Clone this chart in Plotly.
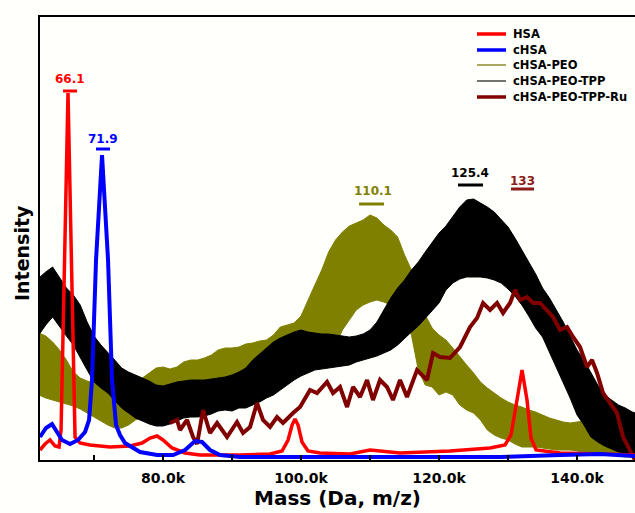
import plotly.graph_objects as go

# ---------------- data ----------------
series_names = ["HSA", "cHSA", "cHSA-PEO", "cHSA-PEO-TPP", "cHSA-PEO-TPP-Ru"]

# common mass grid (kDa) for the two noisy spectra, given as envelope bands
mass_grid = list(range(62, 150))

peo_hi = [127, 124, 118, 110, 100, 88, 82, 79, 77, 74, 70, 67, 68, 72, 77, 82, 87, 92, 93, 91,
          93, 98, 100, 100, 102, 105, 110, 112, 112, 113, 116, 117, 119, 120, 125, 133, 135, 137, 144, 160,
          175, 190, 208, 220, 228, 234, 237, 240, 245, 242, 235, 230, 223, 205, 190, 170, 145, 132, 125, 120,
          112, 103, 95, 87, 78, 72, 67, 62, 58, 55, 53, 50, 48, 45, 42, 40, 38, 37, 38, 39,
          40, 38, 37, 36, 34, 32, 28, 27]
peo_lo = [65, 62, 60, 58, 56, 54, 51, 47, 43, 39, 35, 32, 32, 35, 40, 43, 46, 50, 52, 53,
          55, 58, 60, 64, 67, 68, 70, 71, 72, 70, 68, 62, 65, 69, 70, 72, 80, 86, 88, 91,
          94, 100, 106, 115, 130, 140, 150, 155, 158, 160, 158, 155, 158, 142, 125, 90, 75, 73, 65, 68,
          65, 55, 50, 47, 40, 30, 25, 22, 20, 16, 13, 13, 13, 12, 11, 10, 10, 10, 9, 8,
          7, 7, 7, 6, 4, 3, 3, 3]

tpp_hi = [182, 188, 193, 182, 172, 165, 155, 138, 124, 115, 108, 100, 92, 88, 85, 82, 79, 75, 74, 76,
          78, 79, 80, 80, 80, 81, 82, 83, 85, 88, 92, 100, 106, 112, 118, 122, 125, 128, 130, 128,
          127, 126, 126, 125, 124, 123, 124, 126, 130, 138, 150, 162, 172, 180, 190, 198, 208, 218, 227, 234,
          244, 253, 260, 261, 257, 253, 248, 241, 233, 222, 210, 198, 186, 172, 162, 150, 138, 124, 110, 100,
          87, 75, 65, 60, 55, 52, 48, 46]
tpp_lo = [125, 135, 143, 133, 124, 115, 102, 90, 78, 72, 67, 60, 52, 47, 42, 39, 36, 34, 34, 36,
          39, 42, 43, 43, 44, 46, 49, 50, 49, 52, 52, 55, 58, 62, 65, 70, 75, 80, 84, 87,
          90, 91, 92, 93, 94, 95, 98, 100, 102, 104, 107, 110, 115, 122, 128, 134, 142, 150, 157, 170,
          177, 181, 183, 183, 183, 182, 180, 177, 171, 164, 155, 144, 132, 123, 108, 92, 77, 62, 45, 35,
          23, 18, 14, 11, 8, 6, 4, 3]

hsa_mass = [62.17, 62.90, 63.62, 64.35, 64.93, 65.22, 66.23, 67.25, 67.97, 69.42, 72.32, 75.22, 76.96,
            78.12, 79.13, 80.00, 81.30, 83.19, 85.36, 91.16, 95.51, 97.25, 98.12, 98.70, 99.13, 99.57,
            100.14, 101.01, 102.75, 107.10, 110.0, 114.35, 121.59, 127.39, 129.57, 130.43, 131.30,
            132.03, 132.75, 133.33, 134.06, 137.54, 143.33, 148.41]
hsa_int = [10, 16, 20, 14, 13, 30, 367, 23, 17, 15, 13, 14, 17,
           22, 24, 20, 12, 7, 5, 5, 6, 9, 20, 35, 41, 35,
           18, 9, 7, 6, 10, 7, 9, 12, 15, 25, 60,
           90, 60, 22, 10, 7, 6, 5]

chsa_mass = [62.17, 63.04, 63.91, 64.64, 65.36, 66.52, 67.68, 68.70, 69.28, 69.71, 70.29, 71.16, 72.03,
             72.61, 73.19, 73.77, 74.49, 76.67, 79.13, 81.45, 83.19, 84.64, 85.65, 86.81, 88.26, 91.16,
             99.86, 107.10, 114.35, 128.84, 137.54, 143.33, 148.41]
chsa_int = [23, 32, 36, 28, 20, 16, 20, 28, 40, 80, 200, 305, 200,
            80, 35, 25, 17, 8, 5, 5, 10, 19, 18, 10, 5, 3,
            3, 4, 3, 3, 5, 6, 4]

ru_mass = [81.01, 82.03, 82.46, 83.48, 84.35, 84.93, 85.80, 86.81, 87.83, 89.28, 90.72, 91.59, 92.61,
           93.62, 94.49, 95.51, 96.52, 97.39, 98.84, 99.86, 101.30, 102.32, 103.77, 104.64, 105.65,
           106.67, 107.54, 108.55, 109.57, 110.43, 111.45, 112.46, 113.33, 114.35, 115.36, 116.81,
           118.26, 119.13, 120.14, 121.59, 123.04, 124.49, 125.51, 126.38, 127.39, 128.41, 129.28,
           130.29, 131.01, 131.74, 132.75, 133.62, 134.64, 135.65, 136.52, 137.54, 138.55, 139.42,
           140.43, 141.45, 142.17, 142.90, 143.77, 144.78, 145.80, 146.67, 147.68, 148.55]
ru_int = [37, 40, 30, 40, 23, 16, 50, 27, 37, 23, 38, 27, 33,
          57, 40, 33, 43, 37, 47, 53, 70, 67, 78, 67, 73,
          53, 73, 63, 80, 60, 80, 73, 60, 80, 63, 90,
          80, 107, 103, 102, 113, 133, 142, 157, 150, 157, 147,
          157, 170, 160, 163, 157, 157, 150, 143, 130, 133, 123,
          113, 93, 100, 87, 67, 57, 47, 23, 10, -2]

peak_labels = ["66.1", "71.9", "110.1", "125.4", "133"]
x_tick_vals = [70, 80, 90, 100, 110, 120, 130, 140]
x_tick_text = ["", "80.0k", "", "100.0k", "", "120.0k", "", "140.0k"]

# ---------------- styles / layout ----------------
C_RED, C_BLUE, C_OLIVE, C_BLACK, C_RU = "#ff0000", "#0000ff", "#808000", "#000000", "#800000"
FONT = "DejaVu Sans"
BG = "#fffffb"

fig = go.Figure()

# cHSA-PEO band
fig.add_trace(go.Scatter(x=mass_grid, y=peo_lo, mode="lines", line=dict(color=C_OLIVE, width=1),
                         showlegend=False, hoverinfo="skip"))
fig.add_trace(go.Scatter(x=mass_grid, y=peo_hi, mode="lines", line=dict(color=C_OLIVE, width=1),
                         fill="tonexty", fillcolor=C_OLIVE, showlegend=False))
# cHSA-PEO-TPP band
fig.add_trace(go.Scatter(x=mass_grid, y=tpp_lo, mode="lines", line=dict(color=C_BLACK, width=1),
                         showlegend=False, hoverinfo="skip"))
fig.add_trace(go.Scatter(x=mass_grid, y=tpp_hi, mode="lines", line=dict(color=C_BLACK, width=1),
                         fill="tonexty", fillcolor=C_BLACK, showlegend=False))
# smooth spectra
fig.add_trace(go.Scatter(x=ru_mass, y=ru_int, mode="lines", line=dict(color=C_RU, width=4),
                         showlegend=False))
fig.add_trace(go.Scatter(x=hsa_mass, y=hsa_int, mode="lines", line=dict(color=C_RED, width=3.5),
                         showlegend=False))
fig.add_trace(go.Scatter(x=chsa_mass, y=chsa_int, mode="lines", line=dict(color=C_BLUE, width=4),
                         showlegend=False))

# ---- peak labels with bars (data coordinates) ----
label_pos = [(66.52, 381, 65.51, 67.54, 369, C_RED),
             (71.30, 321, 70.29, 72.32, 311, C_BLUE),
             (110.4, 269, 108.41, 112.03, 256, C_OLIVE),
             (124.5, 287, 122.75, 126.38, 275, C_BLACK),
             (132.1, 279, 130.43, 133.77, 271, "#8b1a1a")]
annotations = []
shapes = []
for txt, (tx, ty, bx0, bx1, by, col) in zip(peak_labels, label_pos):
    annotations.append(dict(x=tx, y=ty, xref="x", yref="y", text=txt, showarrow=False,
                            font=dict(family=FONT, size=12, color=col, weight="bold"),
                            xanchor="center", yanchor="middle"))
    shapes.append(dict(type="line", xref="x", yref="y", x0=bx0, x1=bx1, y0=by, y1=by,
                       line=dict(color=col, width=3)))

# ---- manual legend (paper coordinates) ----
leg_styles = [(C_RED, 3.5), (C_BLUE, 3.5), ("#a8a860", 2), ("#444444", 1.5), (C_RU, 3.5)]
leg_rows = [34, 50, 65, 81, 97]  # pixel rows
W, H, L, T = 595.0, 443.0, 40.0, 17.0
for name, (col, w), py in zip(series_names, leg_styles, leg_rows):
    yp = (460 - py) / H
    shapes.append(dict(type="line", xref="paper", yref="paper",
                       x0=(477 - L) / W, x1=(506 - L) / W, y0=yp, y1=yp,
                       line=dict(color=col, width=w)))
    annotations.append(dict(x=(511 - L) / W, y=yp, xref="paper", yref="paper", text=name,
                            showarrow=False, xanchor="left", yanchor="middle",
                            font=dict(family=FONT, size=11.5, color="black", weight="bold")))

# y-axis title as annotation
annotations.append(dict(x=(22 - L) / W, y=(460 - 253) / H, xref="paper", yref="paper",
                        text="Intensity", textangle=-90, showarrow=False,
                        xanchor="center", yanchor="middle",
                        font=dict(family=FONT, size=19, color="black", weight="bold")))

fig.update_layout(
    width=635, height=513,
    margin=dict(l=40, r=0, t=17, b=53),
    paper_bgcolor=BG, plot_bgcolor=BG,
    showlegend=False,
    font=dict(family=FONT, color="black"),
    annotations=annotations, shapes=shapes,
    xaxis=dict(range=[62.17, 148.4], showline=True, linecolor="black", linewidth=2, mirror=True,
               ticks="inside", ticklen=5, tickwidth=2, tickcolor="black",
               tickvals=x_tick_vals, ticktext=x_tick_text, ticklabelstandoff=4,
               tickfont=dict(family=FONT, size=14, color="black", weight="bold"),
               showgrid=False, zeroline=False,
               title=dict(text="Mass (Da, m/z)", standoff=6,
                          font=dict(family=FONT, size=20, color="black", weight="bold"))),
    yaxis=dict(range=[0, 443], showline=True, linecolor="black", linewidth=2, mirror=False,
               showticklabels=False, ticks="", showgrid=False, zeroline=False),
)

fig.write_html("out.html")
